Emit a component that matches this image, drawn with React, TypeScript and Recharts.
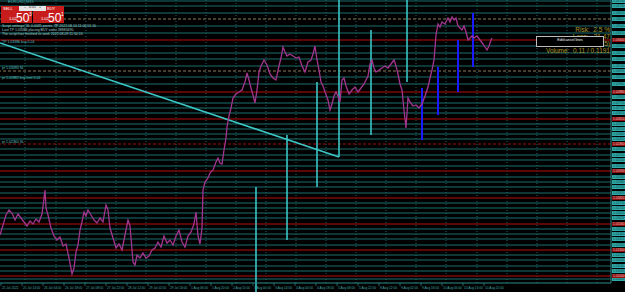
import {
  ComposedChart,
  Line,
  XAxis,
  YAxis,
  ReferenceLine,
} from "recharts";

// price path (bar index -> close)
const priceBars = [
  0, 3, 6, 9, 12, 15, 18, 21, 24, 27, 30, 33, 36, 39, 42, 45, 46, 48, 51, 54,
  57, 60, 63, 66, 69, 72, 74, 76, 78, 80, 82, 84, 86, 88, 91, 94, 97, 100, 103,
  106, 108, 110, 113, 116, 119, 122, 125, 128, 130, 133, 135, 137, 140, 143,
  146, 149, 152, 155, 158, 161, 164, 167, 170, 173, 176, 179, 182, 185, 188,
  191, 194, 196, 198, 200, 202, 203, 205, 208, 210, 213, 216, 218, 220, 222,
  224, 226, 227, 229, 231, 233, 236, 239, 242, 245, 247, 249, 251, 253, 255,
  257, 259, 261, 264, 267, 270, 273, 276, 279, 281, 283, 285, 287, 290, 293,
  296, 299, 302, 305, 308, 311, 313, 315, 317, 319, 321, 323, 325, 328, 330,
  332, 334, 336, 338, 340, 342, 344, 346, 349, 352, 355, 358, 361, 364, 366,
  368, 370, 372, 374, 376, 379, 382, 385, 388, 391, 394, 396, 398, 400, 402,
  404, 406, 408, 410, 413, 416, 419, 422, 425, 428, 430, 432, 434, 436, 438,
  440, 442, 445, 448, 450, 452, 454, 456, 458, 460, 462, 464, 466, 468, 470,
  472, 474, 477, 480, 483, 485, 487, 489, 491, 492,
];
const priceClose = [
  1.0145, 1.0155, 1.0165, 1.017, 1.0167, 1.016, 1.0166, 1.0162, 1.0158, 1.0154,
  1.0159, 1.0156, 1.0161, 1.0158, 1.0166, 1.019, 1.0172, 1.0165, 1.0152, 1.0144,
  1.014, 1.0143, 1.0134, 1.0136, 1.0122, 1.0106, 1.0112, 1.0128, 1.0135, 1.015,
  1.0158, 1.0168, 1.0164, 1.017, 1.0165, 1.016, 1.0157, 1.0162, 1.0158, 1.0175,
  1.017, 1.0152, 1.0142, 1.0132, 1.0136, 1.013, 1.0145, 1.016, 1.0154, 1.0118,
  1.0115, 1.0125, 1.0122, 1.0127, 1.0122, 1.0124, 1.013, 1.0132, 1.0138, 1.0133,
  1.0144, 1.0137, 1.014, 1.0135, 1.0144, 1.015, 1.0138, 1.0133, 1.0144, 1.0148,
  1.0156, 1.0168, 1.0144, 1.0136, 1.0152, 1.019, 1.0198, 1.0202, 1.0207, 1.021,
  1.0218, 1.0222, 1.0217, 1.0216, 1.023, 1.0242, 1.0253, 1.0264, 1.0272, 1.0282,
  1.0286, 1.0288, 1.029, 1.0298, 1.0307, 1.03, 1.0292, 1.0285, 1.0277, 1.029,
  1.0308, 1.0314, 1.032, 1.0315, 1.0306, 1.0302, 1.03, 1.0314, 1.0322, 1.0333,
  1.0328, 1.0324, 1.0326, 1.0324, 1.0322, 1.0323, 1.0314, 1.0308, 1.0318, 1.032,
  1.0326, 1.0334, 1.032, 1.031, 1.0298, 1.0294, 1.0288, 1.028, 1.027, 1.0276,
  1.0284, 1.0288, 1.0284, 1.0278, 1.03, 1.0302, 1.0294, 1.0286, 1.029, 1.0293,
  1.0288, 1.0292, 1.0296, 1.03, 1.0304, 1.0316, 1.032, 1.0312, 1.0308, 1.031,
  1.0312, 1.0314, 1.0312, 1.0316, 1.032, 1.0314, 1.0306, 1.0296, 1.029, 1.027,
  1.0252, 1.0282, 1.0278, 1.0274, 1.0275, 1.0272, 1.0276, 1.0284, 1.0293, 1.0302,
  1.031, 1.032, 1.0345, 1.0356, 1.0353, 1.0358, 1.0356, 1.0362, 1.0358, 1.0363,
  1.036, 1.0362, 1.0354, 1.0352, 1.035, 1.0354, 1.0348, 1.034, 1.0342, 1.0344,
  1.0342, 1.0344, 1.034, 1.0336, 1.0333, 1.033, 1.0334, 1.034, 1.0342,
];

// horizontal levels
const tealLevels = [
  1.0379, 1.0374, 1.0367, 1.0354, 1.0347, 1.0334, 1.0327, 1.0321, 1.0314,
  1.0303, 1.0296, 1.0283, 1.0277, 1.0272, 1.0267, 1.0256, 1.0251, 1.0246,
  1.0241, 1.0231, 1.0225, 1.022, 1.0214, 1.0203, 1.0198, 1.0193, 1.0187,
  1.0177, 1.0172, 1.0167, 1.0162, 1.0151, 1.0146, 1.0141, 1.0135, 1.0125,
  1.012, 1.0114, 1.0109, 1.0101,
];
const redLevels = [1.034, 1.0288, 1.0261, 1.0209, 1.0182, 1.0156, 1.013, 1.0104];
const beigeDashLevels = [1.0361, 1.0309];
const redDashLevels = [1.0236];

// order / trend objects
const trendFrom = { bar: 0, price: 1.0337 };
const trendTo = { bar: 339, price: 1.0223 };
const cyanBars = [256, 287, 317, 339, 371, 407];
const cyanTop = [1.0193, 1.0245, 1.0298, 1.038, 1.035, 1.038];
const cyanBottom = [1.0088, 1.014, 1.0193, 1.0223, 1.0245, 1.0298];
const blueBars = [422, 438, 458, 473];
const blueTop = [1.0292, 1.0313, 1.034, 1.0367];
const blueBottom = [1.024, 1.0265, 1.0288, 1.0313];

const gridBars = [25, 56, 86, 116, 146, 176, 206, 236, 266, 296, 326, 356, 386, 416, 446, 477, 507, 537, 567, 597];
const timeBars = [1, 22, 43, 64, 85, 106, 127, 148, 169, 190, 211, 232, 253, 274, 295, 316, 337, 358, 379, 400, 421, 442, 463, 484];
const timeLabels = [
  "25 Jul 2022", "25 Jul 14:00", "26 Jul 04:00", "26 Jul 18:00", "27 Jul 08:00",
  "27 Jul 22:00", "28 Jul 12:00", "29 Jul 02:00", "29 Jul 16:00", "1 Aug 06:00",
  "1 Aug 20:00", "2 Aug 10:00", "3 Aug 00:00", "3 Aug 14:00", "4 Aug 04:00",
  "4 Aug 18:00", "5 Aug 08:00", "5 Aug 22:00", "8 Aug 12:00", "9 Aug 02:00",
  "9 Aug 16:00", "10 Aug 06:00", "10 Aug 13:00", "10 Aug 20:00",
];

const data = priceBars.map((bar, i) => ({ bar, price: priceClose[i] }));
const allLevels = [...tealLevels, ...redLevels, ...beigeDashLevels, ...redDashLevels];

const TEAL = "#1c6e6e";
const RED = "#7a0a0a";
const FONT = "'Liberation Sans', Arial, sans-serif";

const PriceTag = ({ x, y, payload }: any) => {
  const v = payload.value as number;
  const red = redLevels.includes(v) || redDashLevels.includes(v);
  const fill = red ? "#8e1010" : "#2fa8a8";
  return (
    <g>
      <rect x={x + 1} y={y - 2} width={13} height={4} fill={fill} />
      <text x={x + 2} y={y + 1.3} fontSize={3.2} fill={red ? "#f0c0c0" : "#0d4444"} fontFamily={FONT}>
        {v.toFixed(5)}
      </text>
    </g>
  );
};

const TimeTag = ({ x, y, payload }: any) => {
  const idx = timeBars.indexOf(payload.value);
  return (
    <g>
      <line x1={x} x2={x} y1={y} y2={y + 3} stroke="#3a9a9a" strokeWidth={0.6} />
      <text x={x + 1} y={y + 6.3} fontSize={3.2} fill="#3fa8a8" fontFamily={FONT}>
        {timeLabels[idx] ?? ""}
      </text>
    </g>
  );
};

const tiny = { position: "absolute" as const, fontFamily: FONT, whiteSpace: "nowrap" as const, lineHeight: 1 };

export default function App() {
  return (
    <div style={{ position: "relative", width: 625, height: 292, background: "#000", overflow: "hidden" }}>
      <style>{"body{margin:0;background:#000}"}</style>
      <ComposedChart width={625} height={292} data={data} margin={{ top: 0, right: 0, left: 0, bottom: 0 }}>
        <XAxis
          dataKey="bar"
          type="number"
          domain={[0, 611]}
          ticks={timeBars}
          interval={0}
          tick={<TimeTag />}
          tickSize={0}
          tickMargin={0}
          height={9}
          axisLine={{ stroke: "#2a8a8a" }}
          tickLine={false}
          allowDataOverflow
        />
        <YAxis
          orientation="right"
          type="number"
          domain={[1.0097, 1.038]}
          ticks={allLevels}
          interval={0}
          tick={<PriceTag />}
          tickSize={0}
          tickMargin={0}
          width={14}
          axisLine={{ stroke: "#2a8a8a" }}
          tickLine={false}
          allowDataOverflow
        />
        {gridBars.map((b) => (
          <ReferenceLine key={"g" + b} x={b} stroke="#1e6464" strokeDasharray="1 2" />
        ))}
        {tealLevels.map((l) => (
          <ReferenceLine key={"t" + l} y={l} stroke={TEAL} strokeWidth={1} />
        ))}
        {redLevels.map((l) => (
          <ReferenceLine key={"r" + l} y={l} stroke={RED} strokeWidth={1.3} />
        ))}
        {beigeDashLevels.map((l) => (
          <ReferenceLine key={"b" + l} y={l} stroke="#8a7a5a" strokeDasharray="3 2" />
        ))}
        {redDashLevels.map((l) => (
          <ReferenceLine key={"d" + l} y={l} stroke="#9a1010" strokeWidth={1.2} strokeDasharray="3 2" />
        ))}
        <ReferenceLine
          segment={[
            { x: trendFrom.bar, y: trendFrom.price },
            { x: trendTo.bar, y: trendTo.price },
          ]}
          stroke="#3cc6c6"
          strokeWidth={1.6}
        />
        {cyanBars.map((b, i) => (
          <ReferenceLine
            key={"c" + b}
            segment={[
              { x: b, y: cyanTop[i] },
              { x: b, y: cyanBottom[i] },
            ]}
            stroke="#3cc6c6"
            strokeWidth={1.6}
            ifOverflow="visible"
          />
        ))}
        {blueBars.map((b, i) => (
          <ReferenceLine
            key={"u" + b}
            segment={[
              { x: b, y: blueTop[i] },
              { x: b, y: blueBottom[i] },
            ]}
            stroke="#1a1aff"
            strokeWidth={2}
          />
        ))}
        <Line
          dataKey="price"
          type="linear"
          stroke="#a3358f"
          strokeWidth={1.3}
          dot={false}
          activeDot={false}
          isAnimationActive={false}
        />
      </ComposedChart>

      {/* one-click trading panel */}
      <div style={{ ...tiny, left: 8, top: 0, fontSize: 4, color: "#49b0b0" }}>EURUSD,M15</div>
      <div style={{ position: "absolute", left: 1, top: 6, width: 31, height: 17, background: "#c81c1c" }} />
      <div style={{ position: "absolute", left: 33, top: 6, width: 31, height: 17, background: "#c81c1c" }} />
      <div style={{ ...tiny, left: 3, top: 7, fontSize: 4, color: "#fff" }}>SELL</div>
      <div style={{ ...tiny, left: 47, top: 7, fontSize: 4, color: "#fff" }}>BUY</div>
      <div style={{ ...tiny, left: 19, top: 6, width: 27, height: 5, background: "#e6e6e6", fontSize: 3.6, color: "#222", textAlign: "center" }}>
        – &nbsp;&nbsp;0.01&nbsp;&nbsp; +
      </div>
      <div style={{ ...tiny, left: 9, top: 17, fontSize: 4, color: "#fff" }}>1.02</div>
      <div style={{ ...tiny, left: 16, top: 12, fontSize: 12, color: "#fff" }}>50</div>
      <div style={{ ...tiny, left: 29, top: 12, fontSize: 5, color: "#fff" }}>3</div>
      <div style={{ ...tiny, left: 41, top: 17, fontSize: 4, color: "#fff" }}>1.02</div>
      <div style={{ ...tiny, left: 48, top: 12, fontSize: 12, color: "#fff" }}>50</div>
      <div style={{ ...tiny, left: 61, top: 12, fontSize: 5, color: "#fff" }}>1</div>

      <div style={{ ...tiny, left: 2, top: 25, fontSize: 3.5, color: "#9fd0d0" }}>Script settings: SL 0.0035 points, TP 2022.08.10 11:00 01:10</div>
      <div style={{ ...tiny, left: 2, top: 29, fontSize: 3.5, color: "#9fd0d0" }}>Last TP 1.03386 placing BUY order 38883490</div>
      <div style={{ ...tiny, left: 2, top: 33, fontSize: 3.5, color: "#9fd0d0" }}>The script has finished its work 2022.08.09 11:50:10</div>

      <div style={{ ...tiny, left: 2, top: 41, fontSize: 3.5, color: "#5cc0c0" }}>TP 1.03386 buy 0.04</div>
      <div style={{ ...tiny, left: 2, top: 67, fontSize: 3.5, color: "#5cc0c0" }}>pr 1.03090 SL</div>
      <div style={{ ...tiny, left: 2, top: 77, fontSize: 3.5, color: "#5cc0c0" }}>pr 1.02882 buy limit 0.04</div>
      <div style={{ ...tiny, left: 2, top: 141, fontSize: 3.5, color: "#5cc0c0" }}>pr 1.02360 SL</div>

      {/* risk info */}
      <div style={{ ...tiny, right: 15, top: 27, fontSize: 6.5, color: "#a8982a" }}>Risk:&nbsp;&nbsp;2.5 %</div>
      <div style={{ ...tiny, right: 15, top: 34, fontSize: 6.5, color: "#a8982a" }}>Loss:&nbsp;&nbsp;&nbsp;31.47</div>
      <div style={{ ...tiny, right: 15, top: 41, fontSize: 6.5, color: "#a8982a" }}>Profit:&nbsp;&nbsp;64.(85)</div>
      <div style={{ ...tiny, right: 15, top: 48, fontSize: 6.5, color: "#a8982a" }}>Volume:&nbsp;&nbsp;0.11 / 0.1191</div>
      <div
        style={{
          ...tiny,
          left: 536,
          top: 36,
          width: 66,
          height: 7,
          background: "#000",
          border: "1px solid #bcbcbc",
          fontSize: 3.5,
          color: "#fff",
          textAlign: "center",
          paddingTop: 2,
        }}
      >
        Edit/cancel lines
      </div>
    </div>
  );
}
